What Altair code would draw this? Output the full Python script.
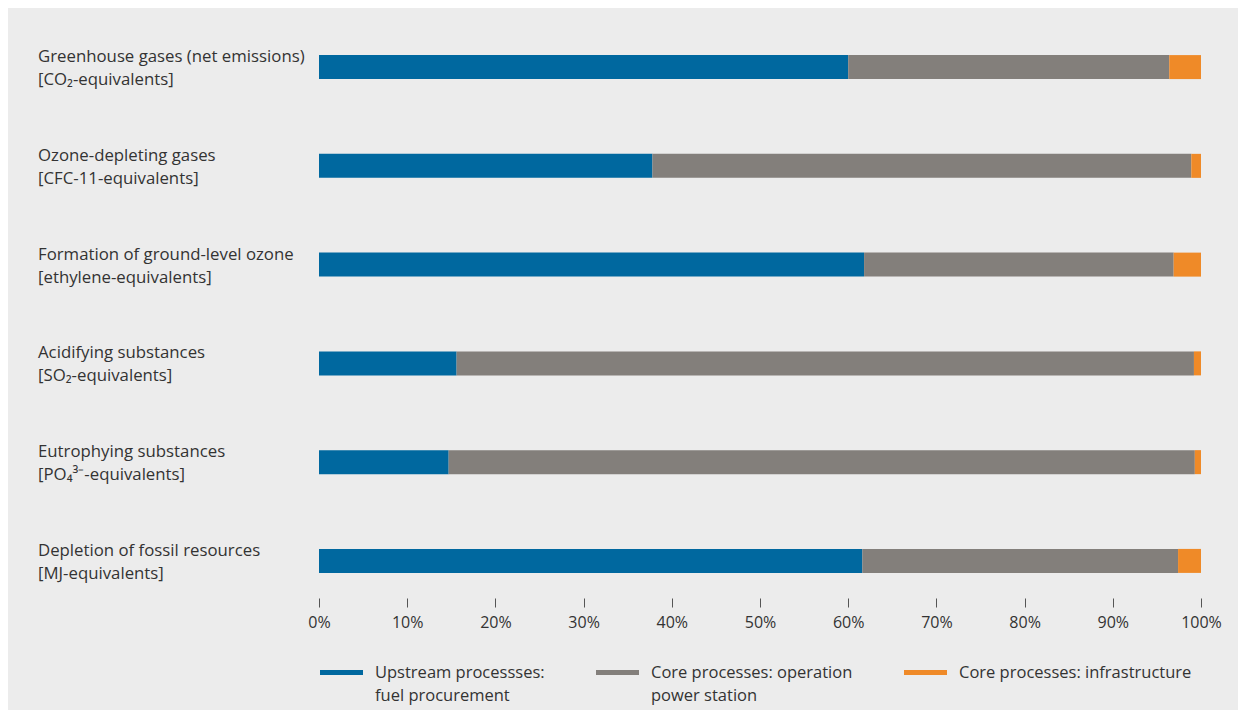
import altair as alt
import pandas as pd

categories = [
    "Greenhouse gases (net emissions)",
    "Ozone-depleting gases",
    "Formation of ground-level ozone",
    "Acidifying substances",
    "Eutrophying substances",
    "Depletion of fossil resources",
]
units = [
    "[CO₂-equivalents]",
    "[CFC-11-equivalents]",
    "[ethylene-equivalents]",
    "[SO₂-equivalents]",
    "[PO₄³⁻-equivalents]",
    "[MJ-equivalents]",
]
series = [
    "Upstream processses:\nfuel procurement",
    "Core processes: operation\npower station",
    "Core processes: infrastructure\n",
]
colors = ["#00689f", "#837f7b", "#ef8a28"]
upstream = [60.0, 37.8, 61.8, 15.6, 14.7, 61.6]
operation = [36.4, 61.1, 35.1, 83.6, 84.6, 35.8]
infrastructure = [3.6, 1.1, 3.1, 0.8, 0.7, 2.6]
tick_values = [0, 10, 20, 30, 40, 50, 60, 70, 80, 90, 100]

rows = []
for i, c in enumerate(categories):
    for k, vals in enumerate([upstream, operation, infrastructure]):
        rows.append({"category": c, "series": series[k], "order": k, "value": vals[i]})
bars_df = pd.DataFrame(rows)
labels_df = pd.DataFrame({"category": categories,
                          "label": [c + "\n" + u for c, u in zip(categories, units)]})

FONT = "Open Sans"
yscale = alt.Scale(paddingInner=0.757, paddingOuter=0.254)

bars = alt.Chart(bars_df).mark_bar().encode(
    x=alt.X("value:Q", stack="zero", scale=alt.Scale(domain=[0, 100], nice=False),
            axis=alt.Axis(values=tick_values, labelExpr="datum.value + '%'", title=None,
                          domain=False, grid=False, ticks=True, tickSize=9, tickColor="#555555",
                          tickWidth=1, labelPadding=7, labelFont=FONT, labelFlush=False,
                          labelFontSize=16, labelColor="#333333")),
    y=alt.Y("category:N", sort=categories, scale=yscale, axis=None),
    color=alt.Color("series:N", scale=alt.Scale(domain=series, range=colors),
                    legend=alt.Legend(orient="none", legendX=1, legendY=621, direction="horizontal",
                                      title=None, symbolType="M-1,-0.116H1V0.116H-1Z",
                                      symbolSize=1849, symbolStrokeWidth=0,
                                      labelExpr="split(datum.label, '\\n')",
                                      labelFont=FONT, labelFontSize=16.5,
                                      labelColor="#333333", labelOffset=12, columnPadding=51,
                                      labelLimit=400)),
    order=alt.Order("order:Q"),
)

texts = alt.Chart(labels_df).mark_text(align="left", baseline="middle", lineBreak="\n",
                                       lineHeight=23, fontSize=16.8, font=FONT, dy=-10,
                                       color="#333333").encode(
    x=alt.value(-281),
    y=alt.Y("category:N", sort=categories, scale=yscale, axis=None),
    text="label:N",
)

chart = alt.layer(bars, texts).properties(
    width=882, height=568, background="#ececec",
    padding={"left": 30, "top": 22, "right": 16, "bottom": 6},
).configure(style={"guide-label": {"lineHeight": 23}}).configure_view(stroke=None)

chart.save("out.html", embed_options={"renderer": "svg", "actions": False})
